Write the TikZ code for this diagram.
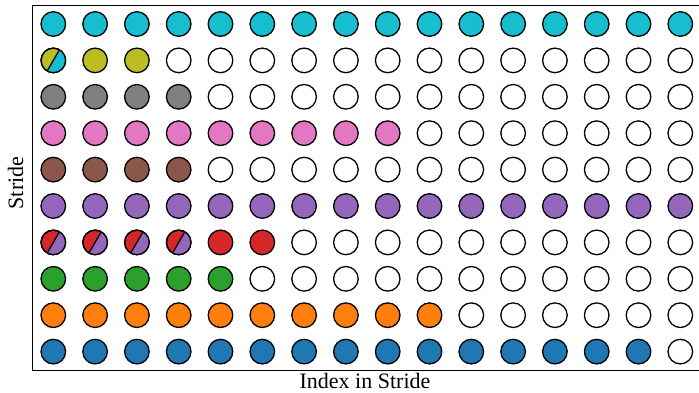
\documentclass[tikz,border=0pt]{standalone}
\usepackage{fontspec}
\setmainfont{Liberation Serif}
\definecolor{tabblue}{HTML}{1F77B4}
\definecolor{taborange}{HTML}{FF7F0E}
\definecolor{tabgreen}{HTML}{2CA02C}
\definecolor{tabred}{HTML}{D62728}
\definecolor{tabpurple}{HTML}{9467BD}
\definecolor{tabbrown}{HTML}{8C564B}
\definecolor{tabpink}{HTML}{E377C2}
\definecolor{tabgray}{HTML}{7F7F7F}
\definecolor{tabolive}{HTML}{BCBD22}
\definecolor{tabcyan}{HTML}{17BECF}
\begin{document}
\begin{tikzpicture}[x=0.5pt, y=0.5pt, font=\fontsize{11}{13}\selectfont,
	slot/.style={draw=black, line width=0.65pt}]
	\useasboundingbox (0,0) rectangle (699,392);
	% frame
	\draw[line width=0.5pt] (699,386) -- (32,386) -- (32,22) -- (699,22);
	% one row per stride, filled slots first
	\foreach \clr/\n [count=\row from 0] in {tabcyan/16, tabolive/3, tabgray/4, tabpink/9, tabbrown/4,
		tabpurple/16, tabred/6, tabgreen/5, taborange/10, tabblue/15}{
		\foreach \i in {0,...,15}{
			\ifnum\i<\n \def\fc{\clr}\else\def\fc{white}\fi
			\draw[slot, fill=\fc] (53.3+41.8*\i, 368-36.4*\row) circle[radius=12.3];
		}
	}
	% shared slots
	\foreach \i/\row/\clr in {0/1/tabcyan, 0/6/tabpurple, 1/6/tabpurple, 2/6/tabpurple, 3/6/tabpurple}{
		\coordinate (c) at (53.3+41.8*\i, 368-36.4*\row);
		\fill[\clr] (c) ++(60:12.3) arc[start angle=60, end angle=-120, radius=12.3] -- cycle;
		\draw[slot] (c) ++(60:12.3) -- ++(240:24.6);
		\draw[slot] (c) circle[radius=12.3];
	}
	\node[rotate=90, anchor=base] (ylab) at (23,209) {Stride};
	\node[anchor=base] (xlab) at (365,4) {Index in Stride};
\end{tikzpicture}
\end{document}
